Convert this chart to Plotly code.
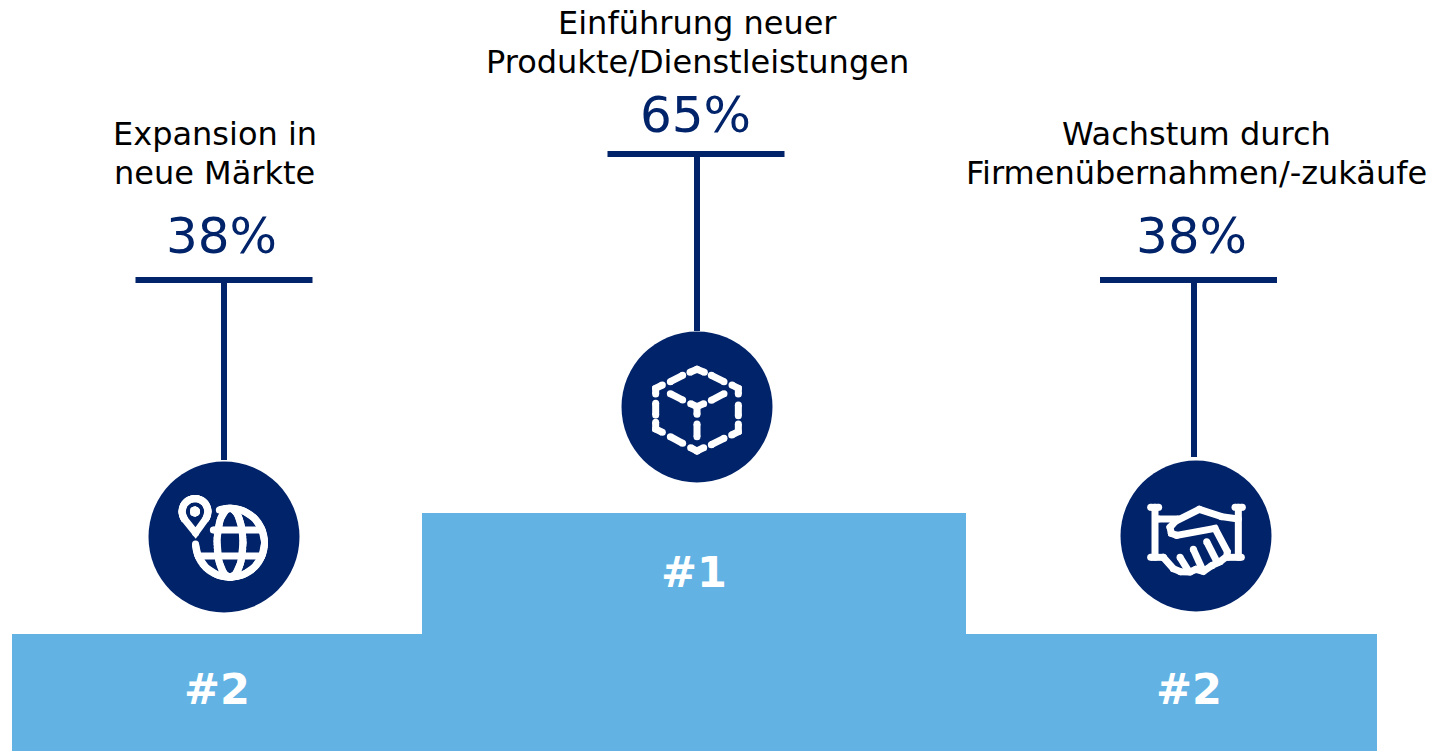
import numpy as np
import plotly.graph_objects as go

# Survey content
goal_lines = [
    ["Expansion in", "neue Märkte"],
    ["Einführung neuer", "Produkte/Dienstleistungen"],
    ["Wachstum durch", "Firmenübernahmen/-zukäufe"],
]
goal_shares = [38, 65, 38]
goal_ranks = ["#2", "#1", "#2"]

NAVY = "#00236A"
SKY = "#62B3E4"
INK = "#000000"
FONT = "DejaVu Sans"
W, H = 1437, 751

# Layout of the three columns, in canvas units
stem_x = [224, 697, 1194]
cap_x = [224, 696, 1188.5]
circle_x = [224, 697, 1196]
circle_y = [537, 407, 536]
stem_end = [460, 331, 457]
cap_half = 88.5
share_x = [221, 695, 1191]
share_y = [236, 115, 236]
title_x = [214.5, 697, 1196]
title_y = [134, 23, 134]
line_gap = 39
rank_x = [217, 694, 1189]
rank_y = [689, 572, 689]

# The share axis overlays the canvas, so each cap sits at its own percentage
SHARE_RANGE = [-62.93, 98.0]
ICON_STROKE = 7


def share_to_canvas(v):
    lo, hi = SHARE_RANGE
    return H * (hi - v) / (hi - lo)


def arc(cx, cy, rx, ry, a0, a1, n=48):
    t = np.radians(np.linspace(a0, a1, n))
    return list(cx + rx * np.cos(t)), list(cy + ry * np.sin(t))


def from_crop(points, ox, oy):
    # Icon outlines are sketched at 3x around a local origin
    return [p[0] / 3 + ox for p in points], [p[1] / 3 + oy for p in points]


def icon_trace(paths, width=ICON_STROKE):
    xs, ys = [], []
    for px, py in paths:
        xs += list(px) + [None]
        ys += list(py) + [None]
    return go.Scatter(
        x=xs, y=ys, mode="lines+markers",
        line=dict(color="white", width=width),
        marker=dict(color="white", size=width, line=dict(width=0)),
        hoverinfo="skip", showlegend=False,
    )


def globe_icon():
    ox, oy = 130, 450
    cx, cy = 230.0, 542.7
    paths = []
    # Outer ring, open at the upper left where the pin sits
    paths.append(arc(cx, cy, 34.5, 34.5, 178, -108, 90))
    # Meridian ellipse
    paths.append(arc(cx, cy, 13, 34.5, 0, 360, 70))
    # Parallels
    paths.append(from_crop([(250, 240), (392, 240)], ox, oy))
    paths.append(from_crop([(205, 318), (395, 318)], ox, oy))
    # Location pin
    px, py = 195.0, 511.5
    hx, hy = arc(px, py, 13, 13, 145, 395, 50)
    paths.append((hx + [195.6, hx[0]], hy + [533.0, hy[0]]))
    paths.append(arc(px, py, 1.5, 1.5, 0, 360, 12))
    return icon_trace(paths)


def cube_icon():
    ox, oy = 610, 325
    dashes = [
        [(240, 142), (261, 133), (283, 142)],
        [(181, 170), (218, 151)],
        [(304, 151), (342, 170)],
        [(366, 180), (385, 190), (385, 207)],
        [(137, 207), (137, 190), (157, 180)],
        [(137, 235), (137, 270)],
        [(385, 240), (385, 272)],
        [(137, 292), (137, 312), (157, 322)],
        [(385, 297), (385, 320), (365, 330)],
        [(181, 335), (218, 355)],
        [(342, 340), (304, 359)],
        [(242, 368), (261, 378), (281, 368)],
        [(261, 297), (261, 335)],
        [(242, 236), (261, 245), (281, 236)],
        [(261, 245), (261, 268)],
        [(181, 206), (218, 225)],
        [(342, 206), (304, 226)],
    ]
    return icon_trace([from_crop(d, ox, oy) for d in dashes])


def handshake_icon():
    ox, oy = 1110, 450
    strokes = [
        [(135, 172), (135, 322)],
        [(385, 172), (385, 322)],
        [(122, 172), (146, 172)],
        [(375, 172), (397, 172)],
        [(122, 322), (160, 322)],
        [(352, 322), (394, 322)],
        [(145, 207), (205, 207)],
        [(385, 207), (335, 200), (268, 178), (196, 214), (180, 232), (184, 250),
         (200, 256), (315, 235), (352, 305), (350, 320), (330, 335), (305, 347)],
        [(160, 322), (190, 356), (212, 365), (240, 366), (258, 358), (280, 364),
         (305, 347)],
        [(210, 322), (235, 362)],
        [(250, 298), (278, 360)],
        [(290, 275), (322, 338)],
    ]
    return icon_trace([from_crop(s, ox, oy) for s in strokes])


fig = go.Figure()

# Podium: a wide low step with a raised centre block
fig.add_trace(go.Bar(x=[694.5], y=[-117], base=[751], width=[1365],
                     marker=dict(color=SKY, line=dict(width=0)),
                     hoverinfo="skip", showlegend=False))
fig.add_trace(go.Bar(x=[694], y=[-121], base=[634], width=[544],
                     marker=dict(color=SKY, line=dict(width=0)),
                     hoverinfo="skip", showlegend=False))

for i, share in enumerate(goal_shares):
    # Cap line at the share value
    fig.add_trace(go.Scatter(
        x=[cap_x[i] - cap_half, cap_x[i] + cap_half], y=[share, share],
        yaxis="y2", mode="lines", line=dict(color=NAVY, width=6),
        hoverinfo="skip", showlegend=False))
    # Stem from the cap down to the icon disc
    fig.add_trace(go.Scatter(
        x=[stem_x[i], stem_x[i]], y=[share_to_canvas(share), stem_end[i]],
        mode="lines", line=dict(color=NAVY, width=6),
        hoverinfo="skip", showlegend=False))
    # Icon disc
    fig.add_trace(go.Scatter(
        x=[circle_x[i]], y=[circle_y[i]], mode="markers",
        marker=dict(color=NAVY, size=151, line=dict(width=0)),
        hoverinfo="skip", showlegend=False))

fig.add_trace(globe_icon())
fig.add_trace(cube_icon())
fig.add_trace(handshake_icon())

annotations = []
for i, share in enumerate(goal_shares):
    annotations.append(dict(
        x=share_x[i], y=share_y[i], text=f"{share}%", xref="x", yref="y",
        showarrow=False, xanchor="center", yanchor="middle",
        font=dict(family=FONT, size=50, color=NAVY)))
    for j, line in enumerate(goal_lines[i]):
        annotations.append(dict(
            x=title_x[i], y=title_y[i] + j * line_gap, text=line, xref="x", yref="y",
            showarrow=False, xanchor="center", yanchor="middle", align="center",
            font=dict(family=FONT, size=32, color=INK)))
    annotations.append(dict(
        x=rank_x[i], y=rank_y[i], text=f"<b>{goal_ranks[i]}</b>", xref="x", yref="y",
        showarrow=False, xanchor="center", yanchor="middle",
        font=dict(family=FONT, size=43, color="white")))

fig.update_layout(
    width=W, height=H,
    margin=dict(l=0, r=0, t=0, b=0),
    paper_bgcolor="white", plot_bgcolor="white",
    showlegend=False, hovermode=False, barmode="overlay",
    xaxis=dict(range=[0, W], visible=False, fixedrange=True),
    yaxis=dict(range=[H, 0], visible=False, fixedrange=True),
    yaxis2=dict(range=SHARE_RANGE, overlaying="y", visible=False, fixedrange=True),
    annotations=annotations,
)

fig.write_html("out.html", config=dict(displayModeBar=False))
